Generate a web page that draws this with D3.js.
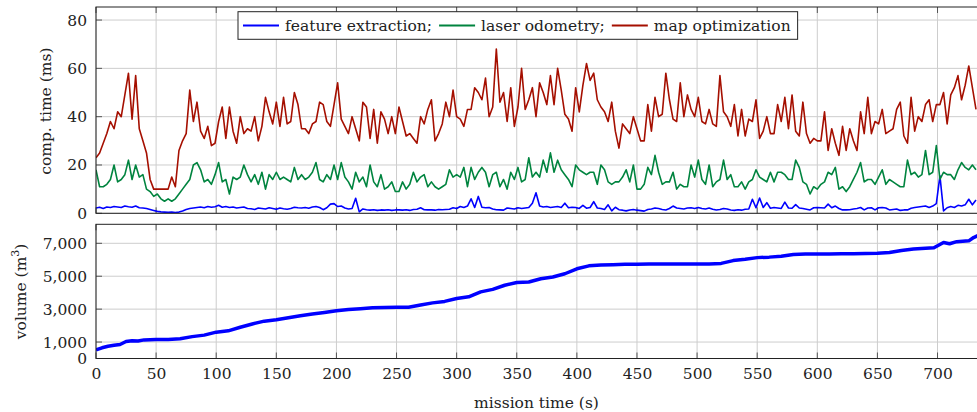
<!DOCTYPE html>
<html>
<head>
<meta charset="utf-8">
<script src="https://cdn.jsdelivr.net/npm/d3@7"></script>
<style>
  body { margin: 0; background: #fff; }
  svg { display: block; font-family: "DejaVu Serif", serif; }
</style>
</head>
<body>
<svg id="chart" width="977" height="412"></svg>
<script>
// timing logs are sampled every few seconds of mission time
const SAMPLE_STEP = 3;

// computation time per module (ms)
const featureExtraction = [
  2.2,2.5,2.0,2.6,2.4,2.8,2.6,2.4,3.0,2.7, 2.5,3.0,2.3,2.2,2.0,1.6,1.2,0.8,0.6,0.5,
  0.4,0.5,0.3,0.5,1.0,1.6,2.0,2.2,2.4,2.6, 2.3,2.8,2.5,2.7,3.3,2.5,2.8,2.4,2.6,2.2,
  2.4,2.6,
  2.0,1.9,1.6,2.2,2.0,1.8,2.3,2.0,1.7,2.2, 1.9,1.7,2.0,2.5,2.3,2.2,2.4,2.1,2.6,2.8,
  2.4,1.5,2.3,3.8,4.0,2.8,3.0,2.2,1.8,2.0, 6.2,0.6,1.8,1.5,1.3,1.5,1.2,1.4,1.3,1.5,
  1.2,1.4,
  1.4,1.3,1.5,1.2,1.6,1.7,2.3,1.5,1.4,1.4, 1.3,1.6,1.5,1.6,1.7,2.3,2.0,2.8,2.4,3.0,
  6.0,2.4,7.0,2.5,2.3,2.4,1.8,1.5,1.4,1.3, 2.2,2.0,1.8,2.3,2.0,2.2,2.4,4.2,8.5,3.0,
  2.6,
  2.8,2.4,2.6,2.8,2.4,4.2,2.3,2.5,2.4,2.0, 3.3,2.1,2.4,4.8,2.2,2.0,1.6,3.5,1.0,2.5,
  1.5,1.3,1.0,1.4,1.6,1.3,1.1,0.9,1.6,1.8, 2.2,2.0,1.6,1.4,2.0,3.0,2.2,2.0,1.8,2.2,
  2.3,2.0,
  2.4,2.0,1.8,2.2,1.7,1.4,1.6,2.0,1.8,1.4, 1.2,1.5,1.3,1.7,1.8,5.8,2.3,6.3,2.4,4.4,
  2.1,2.4,2.2,2.0,4.6,2.2,2.1,3.6,2.2,2.0, 1.7,1.4,2.3,2.4,2.3,2.2,3.8,2.3,3.0,2.0,
  1.4,
  1.4,1.5,1.8,2.0,2.4,1.4,2.2,2.3,1.4,2.3, 2.4,2.2,1.4,1.6,1.8,1.2,1.4,1.4,2.1,2.4,
  2.6,2.8,3.0,2.4,3.0,4.0,15.5,1.0,2.3,2.8, 2.4,3.3,3.0,3.5,5.8,3.5,5.5
];

const laserOdometry = [
  18,11,11,12,14,20,13,14,16,22, 14,20,15,16,10,9,7,8,6,5,
  6,5,6,8,10,12,14,20,21,18, 13,14,12,16,21,13,14,8,15,14,
  15,20,
  16,13,16,12,17,10,16,14,17,14, 15,14,13,19,14,16,14,15,17,21,
  14,13,16,14,20,14,21,15,13,10, 17,13,15,11,20,13,11,16,10,11,
  13,9,
  9,13,10,12,17,13,15,16,11,13, 11,10,11,12,18,15,16,15,19,11,
  19,14,17,19,17,11,16,17,11,14, 10,17,14,19,13,14,23,15,17,15,
  22,
  17,25,17,22,18,16,14,11,20,18, 17,16,17,17,12,20,18,13,12,13,
  13,15,18,13,20,10,10,12,19,16, 24,17,12,13,13,17,10,12,11,11,
  20,15,
  22,14,12,20,11,13,14,22,14,16, 11,11,13,10,13,14,18,15,14,13,
  17,13,17,17,16,14,14,22,19,13, 12,8,11,10,12,13,17,16,19,10,
  11,
  9,11,14,17,21,13,14,14,12,15, 18,12,14,13,12,11,11,22,16,17,
  15,16,26,16,17,28,14,17,16,16, 14,18,21,19,18,20,18
];

const mapOptimization = [
  23,25,29,33,38,35,42,40,49,58, 39,57,35,30,25,14,10,10,10,10,
  10,15,11,26,30,33,51,38,46,34, 31,36,28,29,38,44,31,44,34,29,
  40,33,
  35,34,40,30,36,48,42,37,46,36, 48,37,38,50,45,35,35,33,37,38,
  46,45,38,36,45,54,39,36,33,40, 35,30,46,44,31,43,29,42,39,33,
  40,33,
  44,38,32,33,31,29,40,37,43,47, 30,33,37,46,40,51,40,39,36,43,
  43,52,50,47,56,40,44,68,46,50, 38,52,36,44,60,43,47,52,40,54,
  50,
  45,57,45,60,51,41,39,34,52,42, 53,62,55,58,47,44,42,38,46,34,
  27,37,35,33,40,35,30,30,45,34, 48,40,41,58,47,39,38,54,40,49,
  43,40,
  48,38,37,43,37,36,57,42,40,36, 45,32,43,32,39,38,47,31,34,40,
  33,33,45,38,48,35,49,34,32,46, 33,29,31,30,30,42,26,35,29,24,
  36,
  26,35,30,26,42,33,48,33,38,37, 43,33,34,35,43,46,32,29,48,34,
  40,38,45,47,38,45,45,50,37,49, 52,57,47,53,61,52,43
];

// mapped volume (m^3)
const volumeTime = [0,5,10,15,20,25,30,35,40,50,60,70,80,90,100,110,120,130,140,150,
  160,170,180,190,200,210,220,230,240,250,260,270,280,290,300,310,320,330,340,350,
  360,370,380,390,400,410,420,430,440,450,460,470,480,490,500,510,520,530,540,550,
  560,570,580,590,600,610,620,630,640,650,660,670,680,690,697,705,710,716,726,730,734];
const volume = [520,650,740,800,850,1030,1080,1060,1130,1160,1160,1200,1330,1420,1600,1680,1900,2100,2270,2350,
  2480,2600,2700,2800,2900,2980,3030,3080,3100,3110,3120,3250,3380,3470,3650,3750,4050,4200,4450,4620,
  4650,4850,4950,5150,5450,5630,5680,5700,5720,5730,5740,5740,5740,5740,5740,5750,5780,5950,6030,6130,
  6160,6220,6320,6350,6350,6350,6360,6370,6380,6400,6440,6560,6660,6700,6730,7050,6970,7100,7150,7350,7480];

const xTicks = [0,50,100,150,200,250,300,350,400,450,500,550,600,650,700];
const timeTicks = [0,20,40,60,80];
const volumeTicks = [0,1000,3000,5000,7000];

const seriesNames = ["feature extraction;", "laser odometry;", "map optimization"];
const seriesColors = ["#0000ff", "#00843f", "#a50f00"];
const seriesValues = [featureExtraction, laserOdometry, mapOptimization];

const svg = d3.select("#chart");
const FONT = 15.5;

const x = d3.scaleLinear().domain([0, 734.5]).range([96, 979]);
const yTime = d3.scaleLinear().domain([0, 85.4]).range([213.3, 7]);
const yVol = d3.scaleLinear().domain([0, 8155]).range([358.5, 224.3]);

// draws grid, tick stubs and y labels, returns a clipped group for the data
function drawPanel(name, y, yTicks) {
  const [x0, x1] = x.range();
  const [yb, yt] = y.range();
  const g = svg.append("g").attr("class", "panel-" + name);

  svg.append("clipPath").attr("id", "clip-" + name)
    .append("rect").attr("x", x0).attr("y", yt).attr("width", x1 - x0).attr("height", yb - yt);

  // grid
  g.append("g").selectAll("line").data(xTicks).join("line")
    .attr("x1", d => x(d)).attr("x2", d => x(d)).attr("y1", yb).attr("y2", yt)
    .attr("stroke", "#cdcdcd").attr("stroke-width", 1);
  g.append("g").selectAll("line").data(yTicks).join("line")
    .attr("x1", x0).attr("x2", x1).attr("y1", d => y(d)).attr("y2", d => y(d))
    .attr("stroke", "#cdcdcd").attr("stroke-width", 1);

  // inner tick marks
  const stubs = g.append("g").attr("stroke", "#555").attr("stroke-width", 1);
  stubs.selectAll("line.xb").data(xTicks).join("line").attr("class", "xb")
    .attr("x1", d => x(d)).attr("x2", d => x(d)).attr("y1", yb).attr("y2", yb - 6);
  stubs.selectAll("line.xt").data(xTicks).join("line").attr("class", "xt")
    .attr("x1", d => x(d)).attr("x2", d => x(d)).attr("y1", yt).attr("y2", yt + 6);
  stubs.selectAll("line.yl").data(yTicks).join("line").attr("class", "yl")
    .attr("x1", x0).attr("x2", x0 + 6).attr("y1", d => y(d)).attr("y2", d => y(d));

  const plot = g.append("g").attr("clip-path", `url(#clip-${name})`);

  // y tick labels
  const fmt = name === "vol" ? d3.format(",") : d3.format("d");
  const ax = g.append("g").attr("transform", `translate(${x0},0)`)
    .call(d3.axisLeft(y).tickValues(yTicks).tickSize(0).tickPadding(9).tickFormat(fmt));
  ax.select(".domain").remove();
  ax.selectAll("text").attr("font-family", "DejaVu Serif").attr("font-size", FONT).attr("fill", "#222");

  return { g, plot, yb, yt };
}

function drawFrame(panel) {
  panel.g.append("rect").attr("x", x.range()[0]).attr("y", panel.yt)
    .attr("width", x.range()[1] - x.range()[0]).attr("height", panel.yb - panel.yt)
    .attr("fill", "none").attr("stroke", "#222").attr("stroke-width", 1);
}

// ---- top panel: computation time ----
const timePanel = drawPanel("time", yTime, timeTicks);
const timeLine = d3.line().x((d, i) => x(i * SAMPLE_STEP)).y(d => yTime(d));
seriesValues.forEach((vals, k) => {
  timePanel.plot.append("path").datum(vals)
    .attr("d", timeLine)
    .attr("fill", "none")
    .attr("stroke", seriesColors[k])
    .attr("stroke-width", 1.6)
    .attr("stroke-linejoin", "round");
});
drawFrame(timePanel);

// ---- bottom panel: volume ----
const volPanel = drawPanel("vol", yVol, volumeTicks);
const volLine = d3.line().x((d, i) => x(volumeTime[i])).y(d => yVol(d));
volPanel.plot.append("path").datum(volume)
  .attr("d", volLine)
  .attr("fill", "none")
  .attr("stroke", "#0000ff")
  .attr("stroke-width", 3.5)
  .attr("stroke-linejoin", "round");
drawFrame(volPanel);

// x tick labels under the bottom panel
const xa = svg.append("g").attr("transform", `translate(0,${volPanel.yb})`)
  .call(d3.axisBottom(x).tickValues(xTicks).tickSize(0).tickPadding(9));
xa.select(".domain").remove();
xa.selectAll("text").attr("font-family", "DejaVu Serif").attr("font-size", FONT).attr("fill", "#222");

// axis titles
svg.append("text")
  .attr("x", 536.5).attr("y", 403)
  .attr("text-anchor", "middle").attr("dominant-baseline", "central")
  .attr("font-size", FONT).attr("fill", "#222")
  .text("mission time (s)");

svg.append("text")
  .attr("transform", `translate(46,${(yTime.range()[0] + yTime.range()[1]) / 2 + 1}) rotate(-90)`)
  .attr("text-anchor", "middle").attr("dominant-baseline", "central")
  .attr("font-size", FONT).attr("fill", "#222")
  .text("comp. time (ms)");

const volTitle = svg.append("text")
  .attr("transform", `translate(21,${(yVol.range()[0] + yVol.range()[1]) / 2}) rotate(-90)`)
  .attr("text-anchor", "middle").attr("dominant-baseline", "central")
  .attr("font-size", FONT).attr("fill", "#222");
volTitle.append("tspan").text("volume (m");
volTitle.append("tspan").attr("font-size", 11).attr("dy", -6).text("3");
volTitle.append("tspan").attr("dy", 6).text(")");

// ---- legend ----
const legend = svg.append("g");
const legendBox = legend.append("rect");
const lgY = 25.5;
let cursor = 243;
seriesNames.forEach((name, k) => {
  legend.append("line")
    .attr("x1", cursor).attr("x2", cursor + 36).attr("y1", lgY).attr("y2", lgY)
    .attr("stroke", seriesColors[k]).attr("stroke-width", 2);
  cursor += 42;
  const t = legend.append("text")
    .attr("x", cursor).attr("y", lgY)
    .attr("dominant-baseline", "central")
    .attr("font-size", FONT).attr("fill", "#222")
    .text(name);
  cursor += t.node().getComputedTextLength() + 7;
});
legendBox
  .attr("x", 238).attr("y", 11.7)
  .attr("width", cursor - 238).attr("height", 27.6)
  .attr("fill", "#fff").attr("stroke", "#222").attr("stroke-width", 1);
</script>
</body>
</html>
